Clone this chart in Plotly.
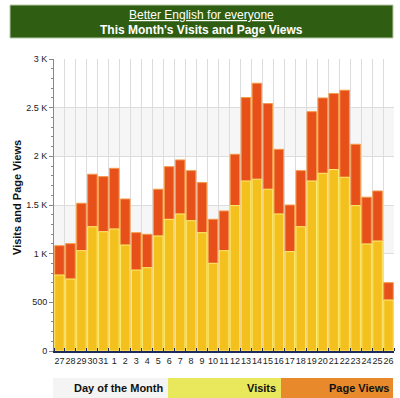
import plotly.graph_objects as go

days = ["27", "28", "29", "30", "31", "1", "2", "3", "4", "5", "6", "7", "8", "9", "10",
        "11", "12", "13", "14", "15", "16", "17", "18", "19", "20", "21", "22", "23", "24", "25", "26"]
visits = [781, 740, 1031, 1277, 1226, 1254, 1089, 832, 856, 1182, 1353, 1408, 1339, 1216, 901,
          1031, 1494, 1747, 1765, 1662, 1408, 1021, 1277, 1747, 1826, 1864, 1785, 1494, 1100, 1130, 524]
page_views = [1082, 1103, 1518, 1816, 1792, 1877, 1562, 1216, 1199, 1662, 1894, 1963, 1853, 1730, 1353,
              1439, 2021, 2604, 2751, 2542, 2072, 1500, 1853, 2459, 2600, 2645, 2679, 2124, 1580, 1644, 702]
y_ticks = [0, 500, 1000, 1500, 2000, 2500, 3000]
y_tick_labels = ["0", "500", "1 K", "1.5 K", "2 K", "2.5 K", "3 K"]

W, H = 400, 398
L, R, T, B = 54, 394, 59, 351


def px(x):
    return (x - L) / (R - L)


def py(y):
    return (B - y) / (B - T)


xs = list(range(len(days)))
fig = go.Figure()
fig.add_trace(go.Bar(x=xs, y=page_views, name="Page Views",
                     marker=dict(color="#e8501a", line=dict(color="#f39a4a", width=1))))
fig.add_trace(go.Bar(x=xs, y=visits, name="Visits",
                     marker=dict(color="#f4c01e", line=dict(color="#faec70", width=1))))

shapes = []
# alternating light bands
for lo in (2000, 1000, 0):
    shapes.append(dict(type="rect", xref="paper", yref="y", x0=0, x1=1, y0=lo, y1=lo + 500,
                       fillcolor="#f6f6f6", line=dict(width=0), layer="below"))
# header box
shapes.append(dict(type="rect", xref="paper", yref="paper", x0=px(10), x1=px(393), y0=py(38), y1=py(5),
                   fillcolor="#2f5e12", line=dict(color="#b8c8a8", width=1)))
# legend strip
shapes.append(dict(type="rect", xref="paper", yref="paper", x0=px(53), x1=px(168), y0=py(398), y1=py(378),
                   fillcolor="#f4f4f4", line=dict(width=0)))
shapes.append(dict(type="rect", xref="paper", yref="paper", x0=px(168), x1=px(281), y0=py(398), y1=py(378),
                   fillcolor="#e9e75c", line=dict(width=0)))
shapes.append(dict(type="rect", xref="paper", yref="paper", x0=px(281), x1=px(393), y0=py(398), y1=py(378),
                   fillcolor="#e88a2c", line=dict(width=0)))

font = "Liberation Sans, Arial, sans-serif"
annotations = [
    dict(text="<u>Better English for everyone</u>", x=px(201), y=py(15), xref="paper", yref="paper",
         showarrow=False, font=dict(family=font, size=12, color="white"), xanchor="center", yanchor="middle"),
    dict(text="<b>This Month's Visits and Page Views</b>", x=px(201), y=py(30), xref="paper", yref="paper",
         showarrow=False, font=dict(family=font, size=12, color="white"), xanchor="center", yanchor="middle"),
    dict(text="<b>Visits and Page Views</b>", x=px(17), y=py(198), xref="paper", yref="paper", textangle=-90,
         showarrow=False, font=dict(family=font, size=11, color="#111"), xanchor="center", yanchor="middle"),
    dict(text="<b>Day of the Month</b>", x=px(165), y=py(388), xref="paper", yref="paper",
         showarrow=False, font=dict(family=font, size=11, color="#111"), xanchor="right", yanchor="middle"),
    dict(text="<b>Visits</b>", x=px(278), y=py(388), xref="paper", yref="paper",
         showarrow=False, font=dict(family=font, size=11, color="#111"), xanchor="right", yanchor="middle"),
    dict(text="<b>Page Views</b>", x=px(391), y=py(388), xref="paper", yref="paper",
         showarrow=False, font=dict(family=font, size=11, color="#111"), xanchor="right", yanchor="middle"),
]

fig.update_layout(
    width=W, height=H,
    margin=dict(l=L, r=W - R, t=T, b=H - B, pad=0, autoexpand=False),
    paper_bgcolor="white", plot_bgcolor="white",
    barmode="overlay", bargap=0.13, showlegend=False,
    shapes=shapes, annotations=annotations,
    xaxis=dict(range=[-0.5, 30.5], tickvals=xs, ticktext=days, showgrid=False, tickangle=0,
               automargin=False,
               tickfont=dict(family=font, size=9, color="#222"), ticks="", ticklen=0,
               showline=True, linecolor="#1c2a5c", linewidth=1.5, zeroline=False,
               minor=dict(tick0=0.5, dtick=1, showgrid=True, gridcolor="#dcdcdc", gridwidth=1,
                          ticks="inside", ticklen=3, tickcolor="#1c2a5c")),
    yaxis=dict(range=[0, 3000], tickvals=y_ticks, ticktext=y_tick_labels, showgrid=True,
               automargin=False,
               gridcolor="#dcdcdc", gridwidth=1, zeroline=False,
               tickfont=dict(family=font, size=9, color="#222"), ticks="outside", ticklen=4,
               tickcolor="#888", showline=True, linecolor="#888", linewidth=1,
               minor=dict(dtick=100, ticks="outside", ticklen=2, tickcolor="#888", showgrid=False)),
)

fig.write_html("out.html", config={"displayModeBar": False},
               post_script="document.body.style.margin='0';document.body.style.overflow='hidden';")
